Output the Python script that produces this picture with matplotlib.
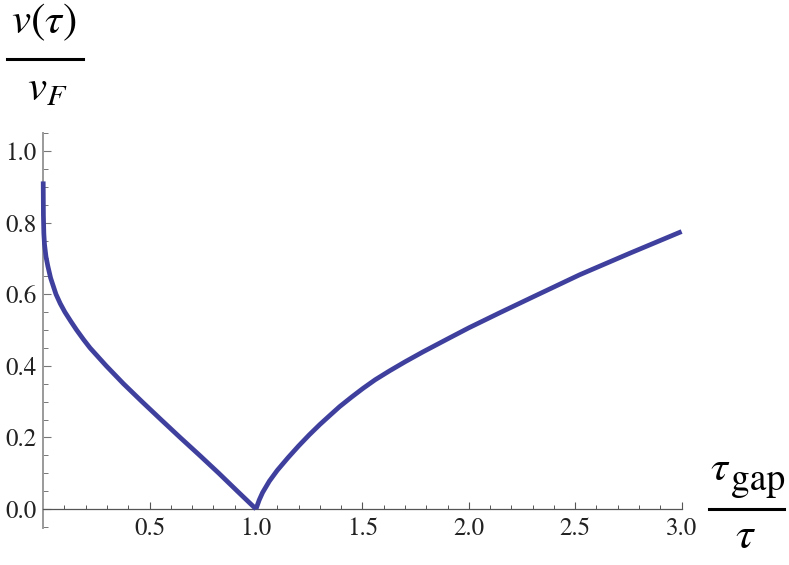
import matplotlib
matplotlib.use("Agg")
import matplotlib.pyplot as plt
from matplotlib.lines import Line2D
import numpy as np

# data
left_x = [0.0, 0.001, 0.003, 0.006, 0.013, 0.022, 0.035, 0.06, 0.08, 0.102, 0.13, 0.157,
          0.19, 0.22, 0.296, 0.377, 0.464, 0.553, 0.643, 0.735, 0.825, 0.912, 1.0]
left_y = [0.915, 0.82, 0.77, 0.74, 0.705, 0.678, 0.645, 0.60, 0.574, 0.55, 0.524, 0.50,
          0.473, 0.45, 0.40, 0.35, 0.30, 0.25, 0.20, 0.15, 0.10, 0.05, 0.0]
right_x = [1.0, 1.015, 1.031, 1.063, 1.1, 1.15, 1.2, 1.25, 1.3, 1.35, 1.393, 1.45, 1.503,
           1.56, 1.628, 1.7, 1.785, 1.9, 2.0, 2.145, 2.3, 2.52, 2.755, 3.0]
right_y = [0.0, 0.025, 0.046, 0.078, 0.108, 0.143, 0.176, 0.207, 0.236, 0.263, 0.286, 0.313,
           0.337, 0.361, 0.386, 0.411, 0.439, 0.475, 0.506, 0.548, 0.592, 0.654, 0.714, 0.775]
x_ticks = [0.5, 1.0, 1.5, 2.0, 2.5, 3.0]
y_ticks = [0.0, 0.2, 0.4, 0.6, 0.8, 1.0]

plt.rcParams['mathtext.fontset'] = 'stix'
plt.rcParams['font.family'] = ['STIXGeneral', 'DejaVu Serif']

W, H = 789, 565
fig = plt.figure(figsize=(W / 100, H / 100), dpi=100)

x0_px, unit_x = 43.2, 212.8
y0_px, unit_y = 509.0, 358.0
ylo, yhi = -0.053, 1.05
left = x0_px / W
width = 3 * unit_x / W
bottom = (H - (y0_px - ylo * unit_y)) / H
height = (yhi - ylo) * unit_y / H
ax = fig.add_axes([left, bottom, width, height])

line_color = '#3f3f9e'
ax.plot(left_x, left_y, color=line_color, lw=3.4, solid_capstyle='butt',
        solid_joinstyle='round', zorder=3, clip_on=False)
ax.plot(right_x, right_y, color=line_color, lw=3.4, solid_capstyle='butt',
        solid_joinstyle='round', zorder=3, clip_on=False)

ax.set_xlim(0, 3)
ax.set_ylim(ylo, yhi)

for s in ['top', 'right']:
    ax.spines[s].set_visible(False)
ax.spines['bottom'].set_position(('data', 0))
ax.spines['left'].set_position(('data', 0))
ax.spines['bottom'].set_color('#555555')
ax.spines['bottom'].set_linewidth(0.9)
ax.spines['left'].set_color('#9a9a9a')
ax.spines['left'].set_linewidth(1.4)

ax.set_xticks(x_ticks)
ax.set_xticklabels([f'{v:.1f}' for v in x_ticks])
ax.set_xticks(np.arange(0.1, 3.0001, 0.1), minor=True)
ax.set_yticks(y_ticks)
ax.set_yticklabels([f'{v:.1f}' for v in y_ticks])
ax.set_yticks(np.arange(-0.05, 1.0501, 0.05), minor=True)

ax.tick_params(axis='x', which='major', direction='in', length=4.8, width=0.8, color='#555555',
               labelsize=18, pad=6)
ax.tick_params(axis='x', which='minor', direction='in', length=2.6, width=0.7, color='#555555')
ax.tick_params(axis='y', which='major', direction='in', length=5.5, width=0.8, color='#777777',
               labelsize=18, pad=5)
ax.tick_params(axis='y', which='minor', direction='in', length=3.5, width=0.7, color='#777777')
for lab in ax.get_xticklabels() + ax.get_yticklabels():
    lab.set_color('#222222')


def fx(px):
    return px / W


def fy(py):
    return (H - py) / H


# y-axis label (fraction)
fig.text(fx(44), fy(33), r'$v(\tau)$', fontsize=31, ha='center', va='baseline')
fig.add_artist(Line2D([fx(7), fx(83)], [fy(59), fy(59)], color='black', lw=2.2))
fig.text(fx(47), fy(100), r'$v_F$', fontsize=31, ha='center', va='baseline')

# x-axis label (fraction)
fig.text(fx(710), fy(480), r'$\tau$', fontsize=31, ha='left', va='baseline')
fig.text(fx(731), fy(490), 'gap', fontsize=27, ha='left', va='baseline')
fig.add_artist(Line2D([fx(709), fx(784)], [fy(509), fy(509)], color='black', lw=2.2))
fig.text(fx(745), fy(557), r'$\tau$', fontsize=32, ha='center', va='bottom')

fig.savefig('out.png', dpi=100)
